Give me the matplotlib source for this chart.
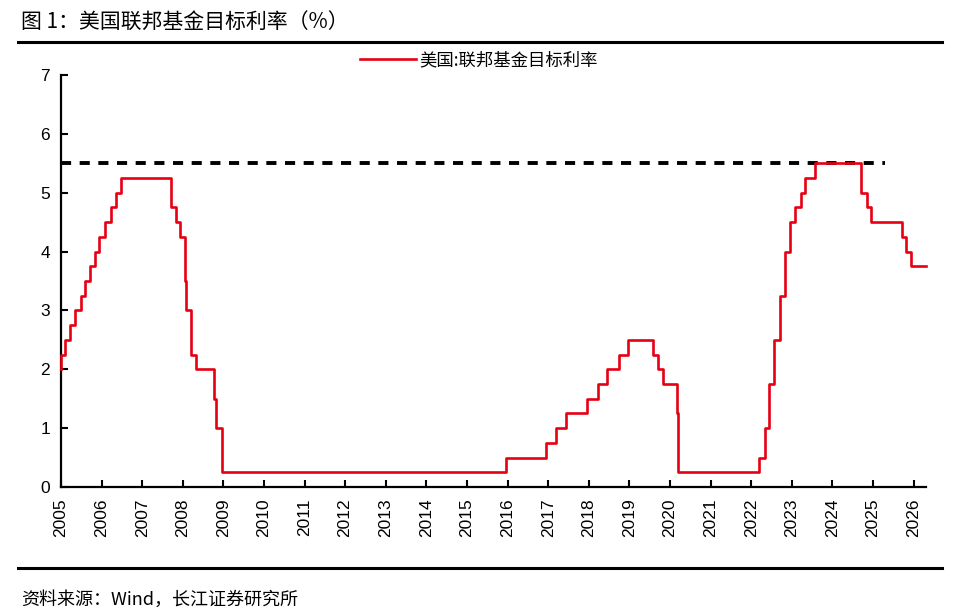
import matplotlib
matplotlib.use('Agg')
import matplotlib.pyplot as plt
import matplotlib.dates as mdates
from matplotlib.lines import Line2D
import pandas as pd

plt.rcParams['font.family'] = ['Liberation Sans', 'Noto Sans CJK SC', 'DejaVu Sans']

# step changes of the fed funds target (upper bound), %
change_dates = ['2005-01-01', '2005-01-03', '2005-02-02', '2005-03-22', '2005-05-03', '2005-06-30',
                '2005-08-09', '2005-09-20', '2005-11-01', '2005-12-13', '2006-01-31', '2006-03-28',
                '2006-05-10', '2006-06-29', '2007-09-18', '2007-10-31', '2007-12-11', '2008-01-22',
                '2008-01-30', '2008-03-18', '2008-04-30', '2008-10-08', '2008-10-29', '2008-12-16',
                '2015-12-16', '2016-12-14', '2017-03-15', '2017-06-14', '2017-12-13', '2018-03-21',
                '2018-06-13', '2018-09-26', '2018-12-19', '2019-07-31', '2019-09-18', '2019-10-30',
                '2020-03-03', '2020-03-15', '2022-03-16', '2022-05-04', '2022-06-15', '2022-07-27',
                '2022-09-21', '2022-11-02', '2022-12-14', '2023-02-01', '2023-03-22', '2023-05-03',
                '2023-07-26', '2024-09-18', '2024-11-07', '2024-12-18', '2025-09-17', '2025-10-29',
                '2025-12-10', '2026-04-20']
rates = [2.0, 2.25, 2.5, 2.75, 3.0, 3.25,
         3.5, 3.75, 4.0, 4.25, 4.5, 4.75,
         5.0, 5.25, 4.75, 4.5, 4.25, 3.5,
         3.0, 2.25, 2.0, 1.5, 1.0, 0.25,
         0.5, 0.75, 1.0, 1.25, 1.5, 1.75,
         2.0, 2.25, 2.5, 2.25, 2.0, 1.75,
         1.25, 0.25, 0.5, 1.0, 1.75, 2.5,
         3.25, 4.0, 4.5, 4.75, 5.0, 5.25,
         5.5, 5.0, 4.75, 4.5, 4.25, 4.0,
         3.75, 3.75]

ref_level = 5.5
ref_start = '2005-01-01'
ref_end = '2025-04-20'

years = list(range(2005, 2027))

dates = pd.to_datetime(change_dates)

fig = plt.figure(figsize=(9.72, 6.15), dpi=100)
ax = fig.add_axes([61/972, 1 - 487/615, (926 - 61)/972, (487 - 75)/615])

ax.plot(pd.to_datetime([ref_start, ref_end]), [ref_level, ref_level], color='black',
        lw=2.8, linestyle=(0, (2.6, 2.2)), zorder=2)
ax.plot(dates, rates, color='#e60012', lw=1.9, drawstyle='steps-post', zorder=3,
        clip_on=False, label='美国:联邦基金目标利率')

ax.set_xlim(pd.Timestamp('2005-01-01'), pd.Timestamp('2026-04-23'))
ax.set_ylim(0, 7)
ax.set_yticks(range(0, 8))
ax.set_xticks(pd.to_datetime([f'{y}-01-01' for y in years]))
ax.xaxis.set_major_formatter(mdates.DateFormatter('%Y'))
ax.tick_params(axis='x', rotation=90, direction='in', length=5, width=1.5, labelsize=12.5, pad=8)
ax.tick_params(axis='y', direction='in', length=5, width=1.5, labelsize=12.5, pad=8)
for s in ['top', 'right']:
    ax.spines[s].set_visible(False)
for s in ['left', 'bottom']:
    ax.spines[s].set_linewidth(1.6)

fig.legend(loc='center', bbox_to_anchor=(0.493, 0.902), frameon=False, handlelength=3.2,
           handletextpad=0.2, prop={'family': ['Noto Sans CJK SC'], 'size': 12.5})

fig.text(0.022, 0.964, '图 1：美国联邦基金目标利率（%）', fontsize=15, va='center',
         family=['Noto Sans CJK SC', 'DejaVu Sans'])
fig.text(0.022, 0.024, '资料来源：Wind，长江证券研究所', fontsize=13, va='center',
         family=['Noto Sans CJK SC', 'DejaVu Sans'])
fig.add_artist(Line2D([18/972, 942/972], [1 - 42/615, 1 - 42/615], color='black', lw=2.2))
fig.add_artist(Line2D([18/972, 942/972], [1 - 568/615, 1 - 568/615], color='black', lw=2.2))

fig.savefig('out.png', dpi=100)
